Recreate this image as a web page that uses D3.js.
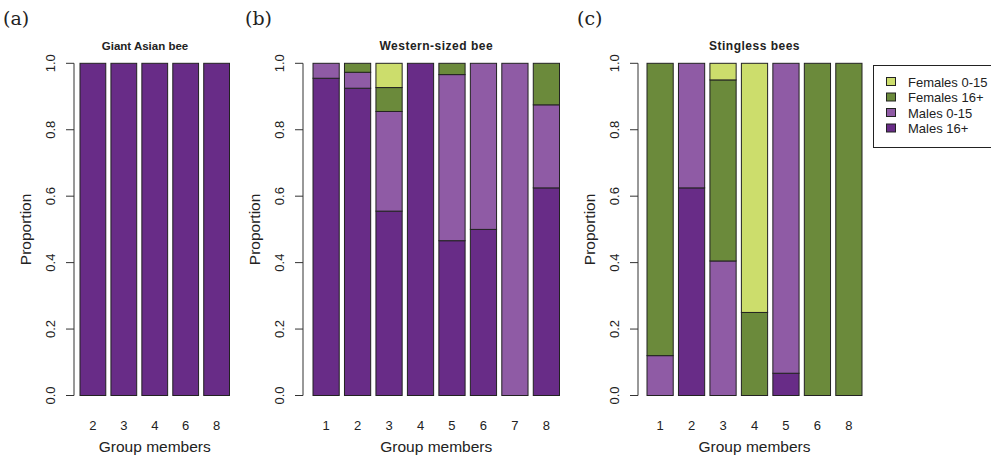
<!DOCTYPE html>
<html lang="en">
<head>
<meta charset="UTF-8">
<title>Bee group composition</title>
<style>
  body { margin: 0; background: #fff; }
  svg { display: block; font-family: "Liberation Sans", Arial, sans-serif; }
</style>
</head>
<body>
<script src="https://cdn.jsdelivr.net/npm/d3@7"></script>
<script>
// series, bottom to top of each stack
const seriesKeys = ['Males 16+', 'Males 0-15', 'Females 16+', 'Females 0-15']
const seriesColors = ['#682c87', '#8f5ba5', '#6b8a3b', '#ccdd6c']

const yTicks = [0, 0.2, 0.4, 0.6, 0.8, 1.0]

// (a) Giant Asian bee
const groupsA = ['2', '3', '4', '6', '8']
const males16A = [1, 1, 1, 1, 1]
const males015A = [0, 0, 0, 0, 0]
const females16A = [0, 0, 0, 0, 0]
const females015A = [0, 0, 0, 0, 0]

// (b) Western-sized bee
const groupsB = ['1', '2', '3', '4', '5', '6', '7', '8']
const males16B = [0.955, 0.925, 0.555, 1.0, 0.466, 0.5, 0, 0.625]
const males015B = [0.045, 0.048, 0.300, 0, 0.500, 0.5, 1.0, 0.25]
const females16B = [0, 0.027, 0.072, 0, 0.034, 0, 0, 0.125]
const females015B = [0, 0, 0.073, 0, 0, 0, 0, 0]

// (c) Stingless bees
const groupsC = ['1', '2', '3', '4', '5', '6', '8']
const males16C = [0, 0.625, 0, 0, 0.067, 0, 0]
const males015C = [0.12, 0.375, 0.405, 0, 0.933, 0, 0]
const females16C = [0.88, 0, 0.545, 0.25, 0, 1, 1]
const females015C = [0, 0, 0.05, 0.75, 0, 0, 0]

const width = 991
const height = 458

const svg = d3.select('body').append('svg')
  .attr('width', width)
  .attr('height', height)

const y = d3.scaleLinear().domain([0, 1]).range([395.5, 63.3])

function table(groups, m16, m015, f16, f015) {
  return groups.map((g, i) => ({
    group: g,
    'Males 16+': m16[i],
    'Males 0-15': m015[i],
    'Females 16+': f16[i],
    'Females 0-15': f015[i]
  }))
}

const panels = [
  { tag: '(a)', tagX: 3, title: 'Giant Asian bee', titleX: 145, titleSize: 11.5, titleSpacing: 0,
    axisX: 74, x0: 80, x1: 229.5,
    data: table(groupsA, males16A, males015A, females16A, females015A) },
  { tag: '(b)', tagX: 245, title: 'Western-sized bee', titleX: null, titleSize: 12, titleSpacing: 0.5,
    axisX: 303, x0: 313, x1: 559.5,
    data: table(groupsB, males16B, males015B, females16B, females015B) },
  { tag: '(c)', tagX: 577, title: 'Stingless bees', titleX: null, titleSize: 12, titleSpacing: 0.5,
    axisX: 638, x0: 647, x1: 862,
    data: table(groupsC, males16C, males015C, females16C, females015C) }
]

const stack = d3.stack().keys(seriesKeys)

panels.forEach(p => {
  const x = d3.scaleBand()
    .domain(p.data.map(d => d.group))
    .range([p.x0, p.x1])
    .paddingInner(0.2 / 1.2)
    .paddingOuter(0)

  const g = svg.append('g')
  const layers = stack(p.data)

  g.selectAll('g.layer')
    .data(layers)
    .enter()
    .append('g')
    .attr('class', 'layer')
    .attr('fill', (_, i) => seriesColors[i])
    .selectAll('rect')
    .data(d => d.filter(s => s[1] - s[0] > 0))
    .enter()
    .append('rect')
    .attr('x', d => x(d.data.group))
    .attr('width', x.bandwidth())
    .attr('y', d => y(d[1]))
    .attr('height', d => y(d[0]) - y(d[1]))
    .attr('stroke', '#222')
    .attr('stroke-width', 1)

  // y axis
  const axis = g.append('g').attr('transform', `translate(${p.axisX},0)`)
  axis.append('line')
    .attr('y1', y(0)).attr('y2', y(1))
    .attr('stroke', '#333')
  axis.selectAll('line.tick')
    .data(yTicks)
    .enter()
    .append('line')
    .attr('class', 'tick')
    .attr('x1', -8).attr('x2', 0)
    .attr('y1', d => y(d)).attr('y2', d => y(d))
    .attr('stroke', '#333')
  axis.selectAll('text')
    .data(yTicks)
    .enter()
    .append('text')
    .attr('transform', d => `translate(-19.5,${y(d)}) rotate(-90)`)
    .attr('text-anchor', 'middle')
    .attr('font-size', 13)
    .attr('fill', '#222')
    .text(d => d.toFixed(1))

  // x labels (no axis line)
  g.selectAll('text.xlab')
    .data(p.data)
    .enter()
    .append('text')
    .attr('class', 'xlab')
    .attr('x', d => x(d.group) + x.bandwidth() / 2)
    .attr('y', 430)
    .attr('text-anchor', 'middle')
    .attr('font-size', 13)
    .attr('fill', '#222')
    .text(d => d.group)

  const cx = (p.x0 + p.x1) / 2
  g.append('text')
    .attr('x', cx).attr('y', 452)
    .attr('text-anchor', 'middle')
    .attr('font-size', 15.5)
    .attr('fill', '#222')
    .text('Group members')

  g.append('text')
    .attr('transform', `translate(${p.axisX - 43.5},${(y(0) + y(1)) / 2}) rotate(-90)`)
    .attr('text-anchor', 'middle')
    .attr('font-size', 15.5)
    .attr('fill', '#222')
    .text('Proportion')

  g.append('text')
    .attr('x', p.titleX || cx).attr('y', 50)
    .attr('text-anchor', 'middle')
    .attr('font-size', p.titleSize)
    .attr('letter-spacing', p.titleSpacing)
    .attr('font-weight', 'bold')
    .attr('fill', '#222')
    .text(p.title)

  g.append('text')
    .attr('x', p.tagX).attr('y', 25)
    .attr('font-family', '"DejaVu Serif", "Liberation Serif", serif')
    .attr('font-size', 19)
    .attr('fill', '#222')
    .text(p.tag)
})

// legend
const legendKeys = seriesKeys.slice().reverse()
const legend = svg.append('g')
legend.append('rect')
  .attr('x', 873.5).attr('y', 65.5)
  .attr('width', 140).attr('height', 82)
  .attr('fill', 'none')
  .attr('stroke', '#222')

const rows = legend.selectAll('g.row')
  .data(legendKeys)
  .enter()
  .append('g')
  .attr('class', 'row')
  .attr('transform', (_, i) => `translate(0,${82 + i * 15.5})`)

rows.append('rect')
  .attr('x', 886.5).attr('y', -4.5)
  .attr('width', 9).attr('height', 8)
  .attr('fill', d => seriesColors[seriesKeys.indexOf(d)])
  .attr('stroke', '#222')

rows.append('text')
  .attr('x', 908).attr('y', 4.5)
  .attr('font-size', 13)
  .attr('fill', '#222')
  .text(d => d)
</script>
</body>
</html>
